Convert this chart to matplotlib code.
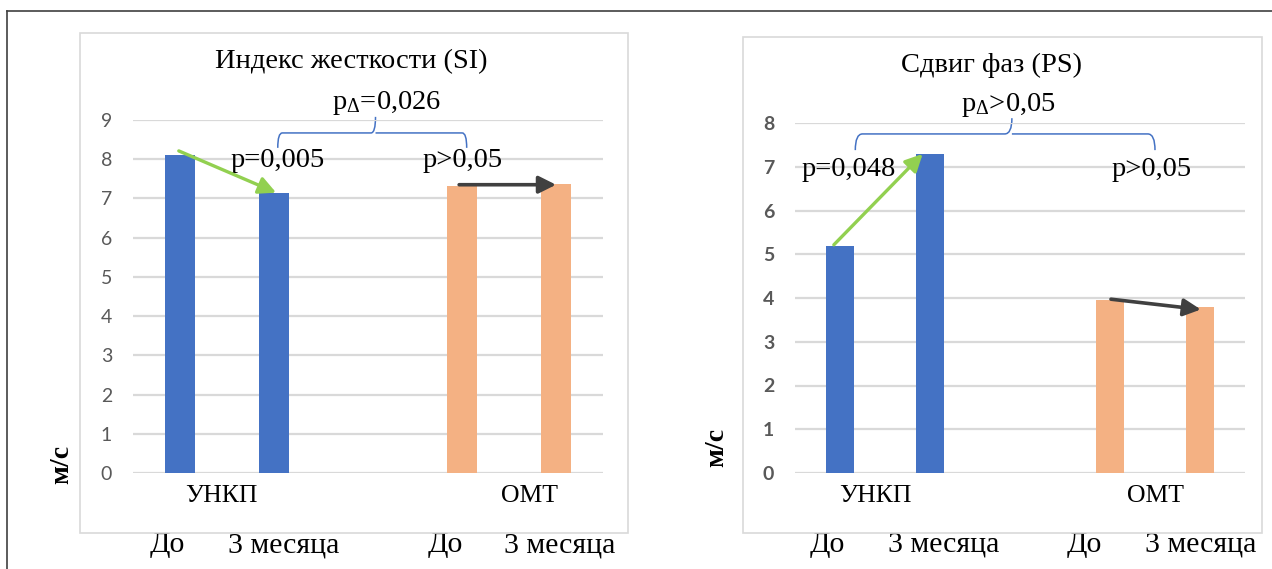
import matplotlib
matplotlib.use('Agg')
import matplotlib.pyplot as plt
from matplotlib.path import Path
from matplotlib.patches import PathPatch, Rectangle
from matplotlib.lines import Line2D
import matplotlib.transforms as mtransforms

plt.rcParams['mathtext.fontset'] = 'custom'
plt.rcParams['mathtext.rm'] = 'Liberation Serif'
plt.rcParams['mathtext.it'] = 'Liberation Serif'

# data
groups = ['УНКП', 'ОМТ']
periods = ['До', '3 месяца']
bar_x = [0, 1, 3, 4]
si_values = [8.11, 7.14, 7.32, 7.37]
ps_values = [5.19, 7.29, 3.95, 3.79]

blue = '#4472C4'
orange = '#F4B183'
bar_colors = [blue, blue, orange, orange]
grid_col = '#D9D9D9'
serif = 'Liberation Serif'
txt_size = 20.5


def draw_brace(ax, x0, x1, xm, y_end, y_bar, y_tip):
    r = 0.06 * (x1 - x0)
    verts = [(x0, y_end), (x0, y_bar), (x0 + r * 0.4, y_bar),
             (xm - r * 0.4, y_bar), (xm, y_bar), (xm, y_tip),
             (xm, y_bar), (xm + r * 0.4, y_bar),
             (x1 - r * 0.4, y_bar), (x1, y_bar), (x1, y_end)]
    codes = [Path.MOVETO, Path.CURVE3, Path.CURVE3,
             Path.LINETO, Path.CURVE3, Path.CURVE3,
             Path.MOVETO, Path.CURVE3,
             Path.LINETO, Path.CURVE3, Path.CURVE3]
    ax.add_patch(PathPatch(Path(verts, codes), fc='none', ec=blue, lw=1.1, clip_on=False))


def draw_panel(ax, values, ymax, title, title_x, lab_x, per_x, bold_ticks):
    ax.bar(bar_x, values, width=0.31, color=bar_colors, zorder=3)
    ax.set_xlim(-0.5, 4.5)
    ax.set_ylim(0, ymax)
    ax.set_yticks(range(ymax + 1))
    ax.grid(axis='y', color=grid_col, lw=1.6, zorder=0)
    for s in ax.spines.values():
        s.set_visible(False)
    ax.tick_params(axis='y', length=0, pad=15, labelsize=14, labelcolor='#595959')
    for t in ax.get_yticklabels():
        t.set_family('Lato')
        if bold_ticks:
            t.set_weight('bold')
    ax.set_xticks(lab_x, groups, family=serif, fontsize=18.5)
    ax.tick_params(axis='x', length=0, pad=9)
    trans = mtransforms.blended_transform_factory(ax.transData, ax.transAxes)
    for i, px in enumerate(per_x):
        ax.text(px, -0.205, periods[i % 2], transform=trans, ha='center', va='center',
                family=serif, fontsize=21.5, clip_on=False)
    ax.text(title_x, 1.165, title, transform=ax.transAxes, ha='center', va='center',
            family=serif, fontsize=txt_size)


fig = plt.figure(figsize=(12.72, 5.69), dpi=100)

# outer frame and chart boxes (pixel positions)
W, H = 1272, 569
fig.add_artist(Line2D([7 / W, 7 / W], [0, 1 - 11 / H], color='#404040', lw=1.2))
fig.add_artist(Line2D([7 / W, 1], [1 - 11 / H, 1 - 11 / H], color='#404040', lw=1.2))
fig.add_artist(Rectangle((80 / W, 1 - 533 / H), 548 / W, 500 / H, fill=False,
                         ec=grid_col, lw=1.2, transform=fig.transFigure))
fig.add_artist(Rectangle((743 / W, 1 - 533 / H), 519 / W, 496 / H, fill=False,
                         ec=grid_col, lw=1.2, transform=fig.transFigure))

ax1 = fig.add_axes([133 / W, 96 / H, 470 / W, 353 / H])
ax2 = fig.add_axes([795 / W, 96 / H, 450 / W, 350 / H])

draw_panel(ax1, si_values, 9, 'Индекс жесткости (SI)', 0.464,
           [0.44, 3.72], [-0.13, 1.10, 2.82, 4.04], False)
draw_panel(ax2, ps_values, 8, 'Сдвиг фаз (PS)', 0.436,
           [0.39, 3.51], [-0.14, 1.15, 2.71, 4.01], True)

ax1.set_ylabel('м/с', family=serif, fontsize=20, weight='bold')
ax1.yaxis.set_label_coords(-0.125, 0.023)
ax2.set_ylabel('м/с', family=serif, fontsize=20, weight='bold')
ax2.yaxis.set_label_coords(-0.145, 0.074)

green = '#92D050'
dark = '#404040'

# left panel annotations
ax1.annotate('', xy=(1.05, 7.12), xytext=(-0.04, 8.24),
             arrowprops=dict(arrowstyle='-|>', color=green, lw=2.4, mutation_scale=26), zorder=5)
ax1.annotate('', xy=(4.03, 7.35), xytext=(2.94, 7.35),
             arrowprops=dict(arrowstyle='-|>', color=dark, lw=2.6, mutation_scale=26), zorder=5)
draw_brace(ax1, 1.04, 3.05, 2.08, 8.29, 8.67, 9.08)
ax1.text(2.2, 9.44, r'p$_{\Delta}$=0,026', ha='center', va='center', family=serif,
         fontsize=txt_size, clip_on=False)
ax1.text(1.04, 7.98, 'p=0,005', ha='center', va='center', family=serif, fontsize=txt_size)
ax1.text(3.01, 7.98, 'p>0,05', ha='center', va='center', family=serif, fontsize=txt_size)

# right panel annotations
ax2.annotate('', xy=(0.94, 7.34), xytext=(-0.09, 5.17),
             arrowprops=dict(arrowstyle='-|>', color=green, lw=2.4, mutation_scale=26), zorder=5)
ax2.annotate('', xy=(4.04, 3.73), xytext=(2.98, 3.98),
             arrowprops=dict(arrowstyle='-|>', color=dark, lw=2.6, mutation_scale=26), zorder=5)
draw_brace(ax2, 0.17, 3.5, 1.91, 7.38, 7.75, 8.11)
ax2.text(1.87, 8.41, r'p$_{\Delta}$>0,05', ha='center', va='center', family=serif,
         fontsize=txt_size, clip_on=False)
ax2.text(0.1, 6.93, 'p=0,048', ha='center', va='center', family=serif, fontsize=txt_size)
ax2.text(3.46, 6.93, 'p>0,05', ha='center', va='center', family=serif, fontsize=txt_size)

fig.savefig('out.png', dpi=100)
